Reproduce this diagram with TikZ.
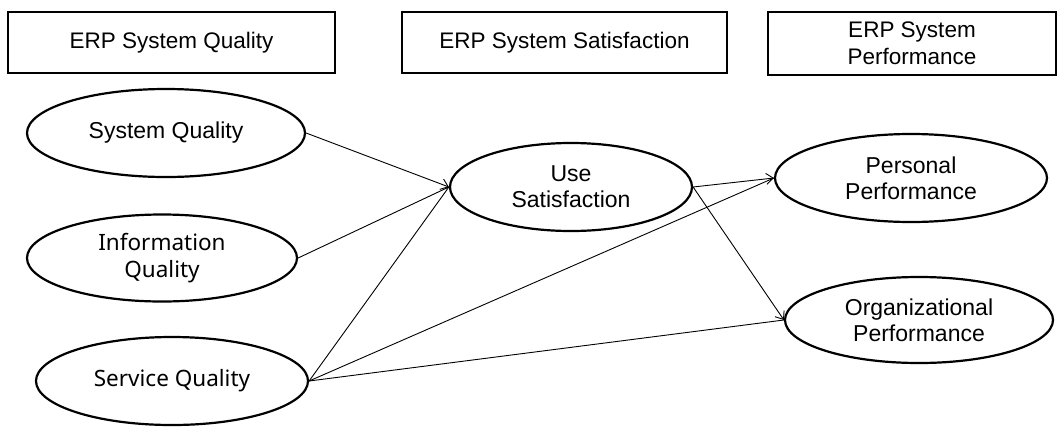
\documentclass[tikz,border=0pt]{standalone}
\usepackage{fontspec}
\setmainfont{Liberation Sans}
\newfontfamily\kofont{Noto Sans}
\usetikzlibrary{shapes.geometric,arrows.meta}
\begin{document}
\begin{tikzpicture}[x=1pt,y=-1pt,
  hdrbox/.style={draw,line width=1.8pt,inner sep=0pt,align=center,
    font=\fontsize{22.5}{27}\selectfont},
  oval/.style={draw,ellipse,line width=2.2pt,inner sep=0pt,align=center,
    font=\fontsize{23}{26}\selectfont},
  kooval/.style={oval,font=\kofont\fontsize{22.5}{27}\selectfont},
  link/.style={line width=0.9pt,-{Straight Barb[length=7pt,width=11pt,line width=0.9pt]}},
  plain/.style={line width=0.9pt}]
\useasboundingbox (0,0) rectangle (1059,426);
% header boxes
\node[hdrbox,minimum width=327pt,minimum height=61pt] (h1) at (171.5,42.5) {ERP System Quality};
\node[hdrbox,minimum width=325pt,minimum height=61pt] (h2) at (564.5,42.5) {ERP System Satisfaction};
\node[hdrbox,minimum width=288pt,minimum height=63pt] (h3) at (912,43.5) {ERP System\\Performance};
% ellipses
\node[oval,minimum width=278pt,minimum height=88pt] (sq) at (166,133) {System Quality};
\node[kooval,minimum width=270pt,minimum height=87pt] (iq) at (162,258) {Information\\Quality};
\node[kooval,minimum width=272pt,minimum height=88pt] (svq) at (172,381) {Service Quality};
\node[oval,minimum width=242pt,minimum height=88pt] (us) at (571,187) {Use\\Satisfaction};
\node[oval,minimum width=272pt,minimum height=88pt] (pp) at (911,178) {Personal\\Performance};
\node[oval,minimum width=268pt,minimum height=86pt] (op) at (919,320) {Organizational\\Performance};
% connectors
\draw[link] (sq.east) -- (us.west);
\draw[plain] (iq.east) -- (us.west);
\draw[plain] (svq.east) -- (us.west);
\draw[plain] (svq.east) -- (pp.west);
\draw[plain] (svq.east) -- (op.west);
\draw[link] (us.east) -- (pp.west);
\draw[link] (us.east) -- (op.west);
\end{tikzpicture}
\end{document}
